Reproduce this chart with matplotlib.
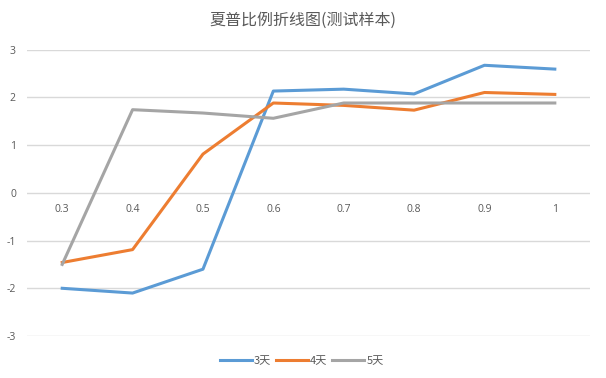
import matplotlib
matplotlib.use('Agg')
import matplotlib.pyplot as plt

plt.rcParams['font.family'] = ['Noto Sans CJK SC', 'DejaVu Sans']

# data
categories = ['0.3', '0.4', '0.5', '0.6', '0.7', '0.8', '0.9', '1']
days3 = [-2.0, -2.1, -1.6, 2.13, 2.17, 2.07, 2.67, 2.59]
days4 = [-1.46, -1.19, 0.81, 1.88, 1.83, 1.73, 2.1, 2.06]
days5 = [-1.5, 1.74, 1.67, 1.56, 1.88, 1.88, 1.88, 1.88]
series_names = ['3天', '4天', '5天']
yticks = [-3, -2, -1, 0, 1, 2, 3]

colors = ['#5B9BD5', '#ED7D31', '#A5A5A5']
text_color = '#595959'
grid_color = '#D9D9D9'
num_font = ['Open Sans', 'DejaVu Sans']

fig = plt.figure(figsize=(6.06, 3.78), dpi=100)
ax = fig.add_axes([0.0446, 0.111, 0.929, 0.758])

x = list(range(len(categories)))
for vals, name, c in zip([days3, days4, days5], series_names, colors):
    ax.plot(x, vals, color=c, linewidth=2.2, label=name, solid_joinstyle='round')

ax.set_xlim(-0.5, len(categories) - 0.5)
ax.set_ylim(-3, 3)
ax.set_yticks(yticks)
ax.set_yticklabels([str(v) for v in yticks])
ax.grid(axis='y', color=grid_color, linewidth=1)
ax.set_axisbelow(True)

# category labels sit just below the zero line
ax.set_xticks(x)
ax.set_xticklabels([])
for xi, lab in zip(x, categories):
    ax.annotate(lab, xy=(xi, 0), xytext=(0, -12), textcoords='offset points',
                ha='center', va='center', fontsize=7.5, color=text_color,
                family=num_font)

for s in ax.spines.values():
    s.set_visible(False)
ax.tick_params(axis='both', length=0, labelsize=7.5, colors=text_color, pad=8)
for t in ax.get_yticklabels():
    t.set_family(num_font)

fig.text(0.5, 0.947, '夏普比例折线图(测试样本)', ha='center', va='center',
         fontsize=11.5, color=text_color)

ax.legend(loc='upper center', bbox_to_anchor=(0.488, -0.035), ncol=3, frameon=False,
          fontsize=8, handlelength=2.9, handletextpad=0.2, columnspacing=0.4,
          labelcolor=text_color)

fig.savefig('out.png', dpi=100)
